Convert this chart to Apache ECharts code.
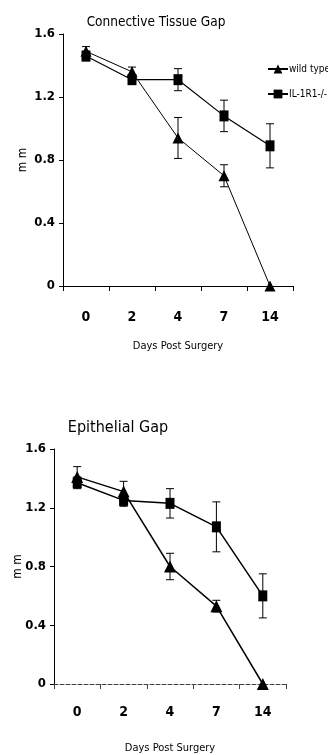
<!DOCTYPE html>
<html><head><meta charset="utf-8">
<script src="https://cdn.jsdelivr.net/npm/echarts@6/dist/echarts.min.js"></script>
<style>html,body{margin:0;padding:0;background:#fff}#c{width:328px;height:755px}</style>
</head><body><div id="c"></div>
<script>
var days = ['0', '2', '4', '7', '14'];
var yTicks = [0, 0.4, 0.8, 1.2, 1.6];
var seriesNames = ['wild type', 'IL-1R1-/-'];
var ctWild = [1.49, 1.36, 0.94, 0.70, 0];
var ctWildErr = [0.03, 0.03, 0.13, 0.07, 0];
var ctKO = [1.46, 1.31, 1.31, 1.08, 0.89];
var ctKOErr = [0.03, 0.03, 0.07, 0.10, 0.14];
var epWild = [1.41, 1.31, 0.80, 0.53, 0];
var epWildErr = [0.07, 0.07, 0.09, 0.04, 0];
var epKO = [1.37, 1.25, 1.23, 1.07, 0.60];
var epKOErr = [0.04, 0.04, 0.10, 0.17, 0.15];

var FONT = '"DejaVu Sans Condensed", "Liberation Sans Narrow", sans-serif';

function errData(vals, errs) {
  return vals.map(function (v, i) { return [i, v, errs[i]]; });
}
function errSeries(idx, vals, errs, z) {
  return {
    type: 'custom', xAxisIndex: idx, yAxisIndex: idx, z: z, silent: true,
    data: errData(vals, errs),
    renderItem: function (params, api) {
      var x = api.value(0), y = api.value(1), e = api.value(2);
      if (!e) return null;
      var hi = api.coord([x, y + e]), lo = api.coord([x, y - e]);
      var w = 4;
      var st = { stroke: '#000', lineWidth: 1 };
      return { type: 'group', children: [
        { type: 'line', shape: { x1: hi[0], y1: hi[1], x2: lo[0], y2: lo[1] }, style: st },
        { type: 'line', shape: { x1: hi[0] - w, y1: hi[1], x2: hi[0] + w, y2: hi[1] }, style: st },
        { type: 'line', shape: { x1: lo[0] - w, y1: lo[1], x2: lo[0] + w, y2: lo[1] }, style: st }
      ]};
    }
  };
}
function lineSeries(idx, name, vals, sym, size, lw) {
  return {
    type: 'line', name: name, xAxisIndex: idx, yAxisIndex: idx, data: vals,
    symbol: sym, symbolSize: size, showSymbol: true,
    lineStyle: { color: '#000', width: lw }, itemStyle: { color: '#000' },
    z: 3, animation: false
  };
}
function xAx(idx, labelMargin, nameGap, nameSize, axisType, axisColor) {
  return {
    type: 'category', gridIndex: idx, data: days, boundaryGap: true,
    axisLine: { lineStyle: { color: axisColor, width: 1, type: axisType } },
    axisTick: { show: true, length: 5, inside: false, lineStyle: { color: axisColor } },
    axisLabel: { margin: labelMargin, color: '#000', fontFamily: FONT, fontWeight: 'bold', fontSize: 14 },
    name: 'Days Post Surgery', nameLocation: 'middle', nameGap: nameGap, nameMoveOverlap: false,
    nameTextStyle: { color: '#000', fontFamily: FONT, fontSize: nameSize }
  };
}
function yAx(idx, nameGap) {
  return {
    type: 'value', gridIndex: idx, min: yTicks[0], max: yTicks[yTicks.length - 1], interval: 0.4,
    axisLine: { show: true, lineStyle: { color: '#000', width: 1 } },
    axisTick: { show: true, length: 4, lineStyle: { color: '#000' } },
    splitLine: { show: false },
    axisLabel: { margin: 8, color: '#000', fontFamily: FONT, fontWeight: 'bold', fontSize: 13,
      formatter: function (v) { return v === 0 ? '0' : v.toFixed(1); } },
    name: 'm m', nameLocation: 'middle', nameRotate: 90, nameGap: nameGap, nameMoveOverlap: false,
    nameTextStyle: { color: '#000', fontFamily: FONT, fontSize: 12 }
  };
}

var chart = echarts.init(document.getElementById('c'), null, { renderer: 'canvas' });
chart.setOption({
  animation: false,
  backgroundColor: '#fff',
  title: [
    { text: 'Connective Tissue Gap', left: 156, top: 15, textAlign: 'center', padding: 0,
      textStyle: { fontFamily: FONT, fontWeight: 'normal', fontSize: 13.5, color: '#000' } },
    { text: 'Epithelial Gap', left: 118, top: 420, textAlign: 'center', padding: 0,
      textStyle: { fontFamily: FONT, fontWeight: 'normal', fontSize: 16, color: '#000' } }
  ],
  legend: {
    data: seriesNames, orient: 'vertical', left: 267, top: 64, itemGap: 15, padding: 0,
    itemWidth: 20, itemHeight: 11,
    textStyle: { fontFamily: FONT, fontSize: 10, color: '#000', padding: [0, 0, 0, -4] }
  },
  grid: [
    { left: 63, top: 34, width: 230, height: 252, outerBoundsMode: 'none', containLabel: false },
    { left: 54, top: 449, width: 232, height: 235, outerBoundsMode: 'none', containLabel: false }
  ],
  xAxis: [xAx(0, 24, 55, 11, 'solid', '#000'), xAx(1, 21, 59, 11, 'dashed', '#444')],
  yAxis: [yAx(0, 34), yAx(1, 30)],
  series: [
    lineSeries(0, seriesNames[0], ctWild, 'triangle', 11, 1),
    lineSeries(0, seriesNames[1], ctKO, 'rect', [9, 11], 1.2),
    errSeries(0, ctWild, ctWildErr, 2),
    errSeries(0, ctKO, ctKOErr, 2),
    lineSeries(1, seriesNames[0], epWild, 'triangle', 12, 1.5),
    lineSeries(1, seriesNames[1], epKO, 'rect', [9, 11], 1.5),
    errSeries(1, epWild, epWildErr, 2),
    errSeries(1, epKO, epKOErr, 2)
  ]
});
</script></body></html>
